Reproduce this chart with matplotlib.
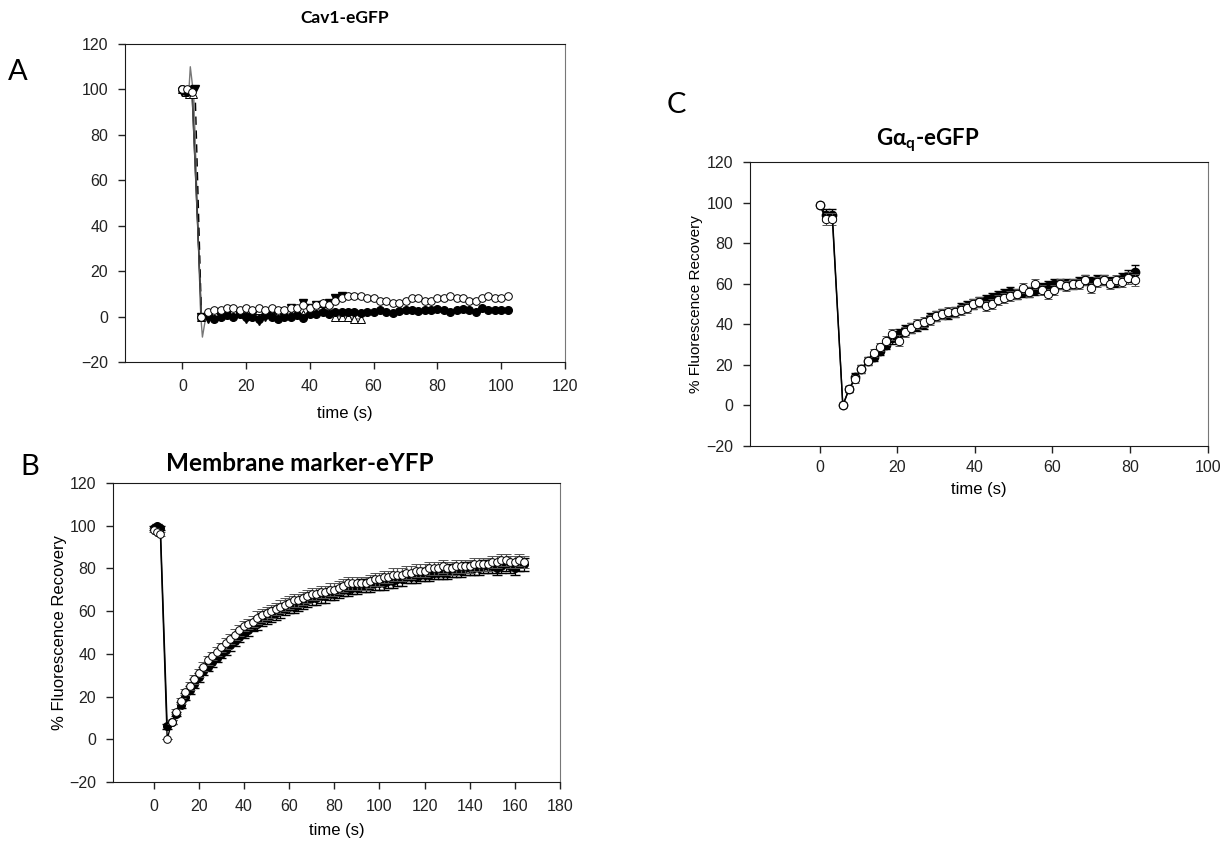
import matplotlib
matplotlib.use('Agg')
import matplotlib.pyplot as plt

plt.rcParams['font.family'] = ['Liberation Sans', 'DejaVu Sans']
plt.rcParams['mathtext.fontset'] = 'custom'
plt.rcParams['mathtext.bf'] = 'Lato:bold'
plt.rcParams['mathtext.rm'] = 'Lato'

# ---- Panel A: Cav1-eGFP (four recordings, no error bars) ----
tA_fc = [0, 1.5, 3, 6, 8, 10, 12, 14, 16, 18, 20, 22, 24, 26, 28, 30, 32, 34, 36, 38, 40,
         42, 44, 46, 48, 50, 52, 54, 56, 58, 60, 62, 64, 66, 68, 70, 72, 74, 76, 78, 80,
         82, 84, 86, 88, 90, 92, 94, 96, 98, 100, 102]
yA_fc = [100, 99, 100, 0, 0.5, -1, 0, 0.5, 0, 1, 0, 0, -1, 0.5, 0, -1, 0, 0, 0.5, -0.5, 1,
         1, 2, 1, 2, 2, 2, 2, 1.5, 2, 2, 3, 2, 1.5, 2.5, 3, 3, 2.5, 3, 3, 3.5,
         3, 2, 3, 3.5, 3, 2, 4, 3, 3, 3, 3]
yA_oc = [100, 100, 99, 0, 2, 3, 3, 4, 4, 3, 4, 3, 4, 3, 4, 3, 3, 4, 4, 5, 4,
         5, 6, 5, 7, 8, 9, 9, 9, 8, 8, 7, 7, 6, 6, 7, 8, 8, 7, 7, 8,
         8, 9, 8, 8, 7, 7, 8, 9, 8, 8, 9]
tA_ft = [0, 2, 4, 6, 8, 10, 12, 14, 16, 18, 20, 22, 24, 26, 28, 30, 32, 34, 36, 38, 40,
         42, 44, 46, 48, 50]
yA_ft = [99, 98, 100, 0, -1, 0, 0, 1, 0, 1, -1, 0, -2, 0, 1, 2, 2, 4, 3, 6, 4,
         5, 5, 6, 8, 9]
tA_ot = [0, 1, 2, 3.5, 5.8, 7.5, 10, 12, 14, 16, 18, 20, 22, 24, 26, 28, 30, 32,
         34, 36, 38, 40, 42, 44, 46, 48, 50, 52, 54, 56]
yA_ot = [100, 99, 98, 98, 0, 1, 2, 1, 2, 3, 2, 1, 2, 3, 2, 1, 1, 2,
         1, 2, 1, 2, 4, 6, 3, 0, 0, 0, -1, -1]
# raw trace (line only) with the overshoot and undershoot around the bleach
tA_raw = [0, 1, 2, 2.5, 3.5, 5.8, 6.3, 7.5]
yA_raw = [100, 99, 98, 110, 98, 0, -9, 1]

# ---- Panel B: Membrane marker-eYFP ----
tB = [0, 1.5, 3, 6, 8, 10, 12, 14, 16, 18, 20, 22, 24, 26, 28, 30, 32, 34, 36, 38, 40,
      42, 44, 46, 48, 50, 52, 54, 56, 58, 60, 62, 64, 66, 68, 70, 72, 74, 76, 78, 80,
      82, 84, 86, 88, 90, 92, 94, 96, 98, 100, 102, 104, 106, 108, 110, 112, 114, 116,
      118, 120, 122, 124, 126, 128, 130, 132, 134, 136, 138, 140, 142, 144, 146, 148,
      150, 152, 154, 156, 158, 160, 162, 164]
yB_open = [98, 97, 96, 0, 8, 13, 18, 22, 25, 28, 31, 34, 37, 39, 41, 43, 45, 47, 49, 51, 53,
           54, 55, 57, 58, 59, 60, 61, 62, 63, 64, 65, 65, 66, 67, 68, 68, 69, 69, 70, 70,
           71, 72, 73, 73, 73, 73, 73, 74, 75, 75, 76, 76, 77, 77, 77, 78, 78, 79,
           79, 79, 80, 80, 80, 81, 80, 80, 81, 81, 81, 81, 82, 82, 82, 82,
           83, 83, 84, 84, 83, 83, 84, 83]
yB_fill = [99, 100, 99, 6, 8, 12, 16, 20, 23, 26, 29, 32, 34, 36, 38, 40, 42, 44, 46, 48, 50,
           51, 53, 54, 56, 57, 58, 59, 60, 61, 62, 62, 63, 64, 65, 66, 66, 67, 67, 68, 68,
           69, 70, 70, 71, 71, 72, 72, 72, 73, 73, 73, 74, 74, 75, 75, 76, 76, 76,
           77, 77, 77, 78, 78, 78, 78, 79, 79, 79, 80, 80, 80, 80, 81, 81,
           81, 80, 81, 82, 81, 80, 82, 82]
eB_open = [1, 1, 1, 0, 1, 1, 1.5, 1.5, 2, 2, 2, 2, 2, 2, 2, 2, 2.5, 2.5, 2.5, 2.5, 2.5,
           2.5, 2.5, 3, 3, 3, 3, 3, 3, 3, 3, 3, 3, 3, 3, 3, 3, 3, 3, 3, 3,
           3, 3, 3, 3, 3, 3, 3, 3, 3, 3, 3, 3, 3, 3, 3, 3, 3, 3,
           3, 3, 3, 3, 3, 3, 3, 3, 3, 3, 3, 3, 3, 3, 3, 3,
           3, 3, 3, 3, 3, 3, 3, 3]
eB_fill = [1, 1, 1, 1, 1, 1, 1.5, 1.5, 2, 2, 2, 2, 2, 2, 2, 2, 2.5, 2.5, 2.5, 2.5, 2.5,
           2.5, 2.5, 3, 3, 3, 3, 3, 3, 3, 3, 3, 3, 3, 3, 3, 3, 3, 3, 3, 3,
           3, 3, 3, 3, 3, 3, 3, 3, 3, 3, 3, 3, 3, 3, 3, 3, 3, 3,
           3, 3, 3, 3, 3, 3, 3, 3, 3, 3, 3, 3, 3, 3, 3, 3,
           3, 3, 3, 3, 3, 3, 3, 3]

# ---- Panel C: G-alpha-q-eGFP ----
tC = [0, 1.6, 3.3, 6, 7.6, 9.2, 10.8, 12.4, 14, 15.6, 17.2, 18.8, 20.4, 22, 23.6, 25.2,
      26.8, 28.4, 30, 31.6, 33.2, 34.8, 36.4, 38, 39.6, 41.2, 42.8, 44.4, 46, 47.6, 49.2,
      50.8, 52.4, 54, 55.6, 57.2, 58.8, 60.4, 62, 63.6, 65.2, 66.8, 68.4, 70, 71.6, 73.2,
      74.8, 76.4, 78, 79.6, 81.2]
yC_open = [99, 92, 92, 0, 8, 13, 18, 22, 26, 29, 32, 35, 32, 36, 38, 40,
           41, 42, 44, 45, 46, 46, 47, 48, 50, 51, 49, 50, 52, 53, 54,
           55, 58, 56, 60, 57, 55, 57, 60, 59, 60, 60, 62, 58, 61, 62,
           60, 62, 61, 63, 62]
yC_fill = [99, 94, 94, 0, 8, 14, 18, 22, 24, 27, 30, 33, 35, 37, 38, 39,
           40, 43, 44, 45, 45, 46, 48, 49, 50, 51, 52, 53, 54, 55, 56,
           55, 56, 56, 57, 58, 59, 60, 60, 60, 60, 61, 62, 61, 62, 62,
           61, 61, 63, 64, 66]
eC = [1, 3, 3, 1, 1.5, 2, 2, 2, 2, 2, 2, 2.5, 2.5, 2.5, 2.5, 2.5,
      2.5, 2.5, 2.5, 2.5, 2.5, 2.5, 2.5, 2.5, 2.5, 2.5, 2.5, 2.5, 2.5, 2.5, 2.5,
      2.5, 2.5, 2.5, 2.5, 2.5, 2.5, 2.5, 2.5, 2.5, 2.5, 2.5, 2.5, 2.5, 2.5, 2.5,
      2.5, 2.5, 2.5, 3, 3]

yTicks = [-20, 0, 20, 40, 60, 80, 100, 120]


def styleAxes(ax, xMax, xStep, labelPad=10):
    ax.set_xlim(-18, xMax)
    ax.set_ylim(-20, 120)
    ax.set_xticks(list(range(0, xMax + 1, xStep)))
    ax.set_yticks(yTicks)
    ax.tick_params(direction='out', length=5, width=1, labelsize=11.5, colors='#222222',
                   top=False, right=False, pad=7)
    for side in ['left', 'bottom', 'top']:
        ax.spines[side].set_color('#1a1a1a')
    ax.spines['right'].set_color('#777777')
    ax.set_xlabel('time (s)', fontsize=12, labelpad=labelPad)


fig = plt.figure(figsize=(12.31, 8.42), dpi=100)

# Panel A
axA = fig.add_axes([0.1015, 0.570, 0.3574, 0.3777])
axA.plot(tA_raw, yA_raw, color='#777777', lw=1.0, zorder=2)
axA.plot(tA_ot, yA_ot, color='#888888', lw=1.0, zorder=2)
axA.plot(tA_ft, yA_ft, color='black', lw=1.0, ls=(0, (6, 4)), zorder=2)
axA.plot(tA_fc, yA_fc, color='black', lw=1.0, zorder=2)
axA.plot(tA_fc, yA_oc, color='#555555', lw=0.8, zorder=2)
axA.plot(tA_ft, yA_ft, ls='none', marker='v', ms=6, mfc='black', mec='black', zorder=3)
axA.plot(tA_ot, yA_ot, ls='none', marker='^', ms=6, mfc='white', mec='black', mew=0.7, zorder=3)
axA.plot(tA_fc, yA_fc, ls='none', marker='o', ms=5.5, mfc='black', mec='black', zorder=4)
axA.plot(tA_fc, yA_oc, ls='none', marker='o', ms=5.5, mfc='white', mec='black', mew=0.7, zorder=4)
styleAxes(axA, 120, 20, labelPad=9)

# Panel B
axB = fig.add_axes([0.0918, 0.0713, 0.3631, 0.355])
axB.errorbar(tB, yB_fill, yerr=eB_fill, color='black', lw=1.0, elinewidth=0.9, capsize=3.5,
             marker='o', ms=5.5, mfc='black', mec='black', zorder=2)
axB.errorbar(tB, yB_open, yerr=eB_open, color='black', lw=1.0, elinewidth=0.9, capsize=3.5,
             ecolor='#555555', marker='o', ms=5.5, mfc='white', mec='black', mew=0.7, zorder=3)
styleAxes(axB, 180, 20, labelPad=7)
axB.set_ylabel('% Fluorescence Recovery', fontsize=12, labelpad=2)

# Panel C
axC = fig.add_axes([0.609, 0.4703, 0.372, 0.3373])
axC.errorbar(tC, yC_fill, yerr=eC, color='black', lw=1.0, elinewidth=0.8, capsize=3,
             marker='o', ms=6, mfc='black', mec='black', zorder=2)
axC.errorbar(tC, yC_open, yerr=eC, color='black', lw=1.0, elinewidth=0.8, capsize=3,
             ecolor='#555555', marker='o', ms=6, mfc='white', mec='black', mew=0.7, zorder=3)
styleAxes(axC, 100, 20, labelPad=5)
axC.tick_params(axis='x', pad=5)
axC.set_ylabel('% Fluorescence Recovery', fontsize=11, labelpad=2)

# titles and panel letters
fig.text(345 / 1231, 1 - 18 / 842, 'Cav1-eGFP', ha='center', va='center',
         fontsize=12.5, fontweight='bold', family=['Lato', 'DejaVu Sans'])
fig.text(300 / 1231, 1 - 464 / 842, 'Membrane marker-eYFP', ha='center', va='center',
         fontsize=17.5, fontweight='bold', family=['Lato', 'DejaVu Sans'])
fig.text(928 / 1231, 1 - 140 / 842, r'Gα$_\mathbf{q}$-eGFP', ha='center', va='center',
         fontsize=16, fontweight='bold', family=['Lato', 'DejaVu Sans'])
for letter, x, y in [('A', 18, 72), ('B', 30, 467), ('C', 676, 105)]:
    fig.text(x / 1231, 1 - y / 842, letter, ha='center', va='center', fontsize=21,
             family=['Lato', 'DejaVu Sans'])

fig.savefig('out.png', dpi=100)
